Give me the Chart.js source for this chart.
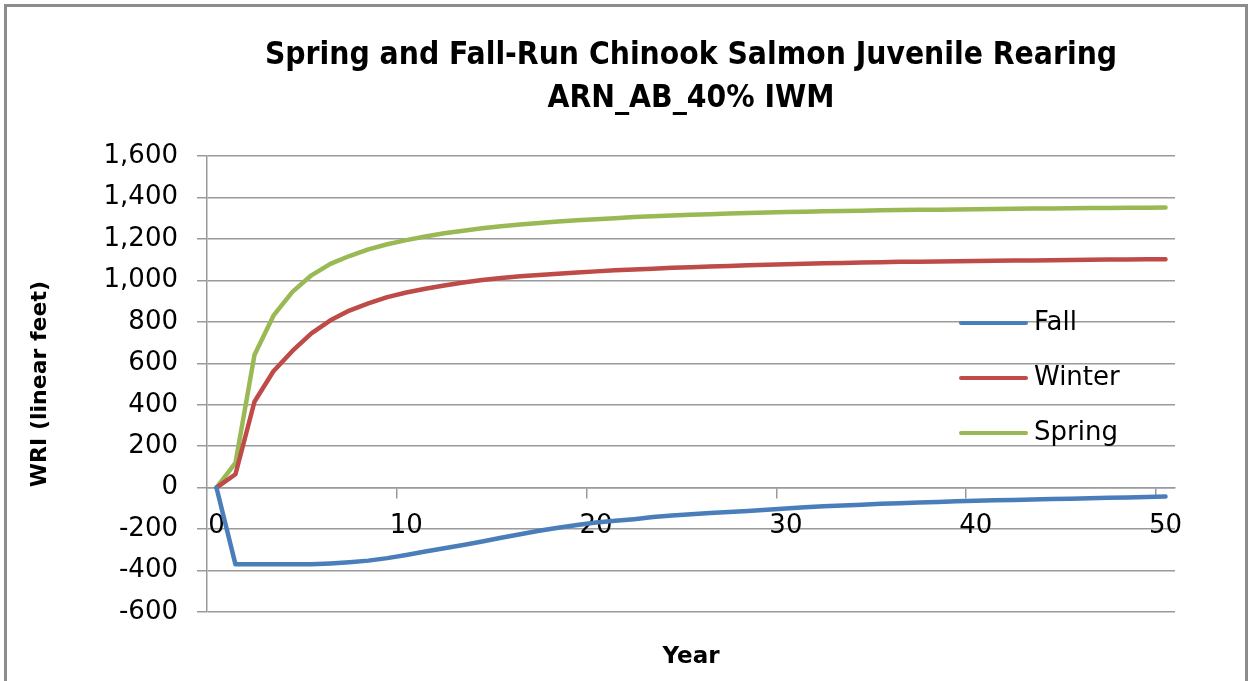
<!DOCTYPE html>
<html>
<head>
<meta charset="utf-8">
<script src="https://cdn.jsdelivr.net/npm/chart.js@4/dist/chart.umd.min.js"></script>
<style>
  html, body { margin: 0; padding: 0; background: #fff; overflow: hidden; }
  #wrap { position: relative; width: 1250px; height: 681px; }
  #frame { position: absolute; left: 4px; top: 4px; width: 1238px; height: 700px; border: 3px solid #8c8c8c; box-sizing: content-box; pointer-events: none; }
  canvas { position: absolute; left: 0; top: 0; }
</style>
</head>
<body>
<div id="wrap">
  <canvas id="c" width="1250" height="681"></canvas>
  <div id="frame"></div>
</div>
<script>
const titleLines = ['Spring and Fall-Run Chinook Salmon Juvenile Rearing', 'ARN_AB_40% IWM'];
const xTitle = 'Year';
const yTitle = 'WRI (linear feet)';
const years = ['0','1','2','3','4','5','6','7','8','9','10','11','12','13','14','15','16','17','18','19','20','21','22','23','24','25','26','27','28','29','30','31','32','33','34','35','36','37','38','39','40','41','42','43','44','45','46','47','48','49','50'];
const fall = [0,-370,-370,-370,-370,-370,-366,-360,-352,-340,-325,-308,-292,-277,-260,-242,-225,-208,-193,-180,-168,-160,-152,-142,-134,-128,-122,-117,-112,-106,-100,-95,-90,-86,-82,-78,-75,-72,-69,-66,-63,-61,-59,-57,-55,-53,-51,-49,-47,-45,-43];
const winter = [0,65,415,562,660,745,808,855,890,920,942,960,976,990,1002,1012,1020,1027,1033,1039,1044,1049,1053,1057,1061,1064,1067,1070,1073,1076,1078,1081,1083,1085,1087,1088,1090,1091,1092,1093,1094,1095,1096,1097,1098,1099,1100,1101,1101,1102,1102];
const spring = [0,120,640,830,945,1025,1080,1118,1150,1175,1195,1212,1228,1240,1252,1262,1270,1278,1285,1291,1296,1301,1306,1310,1314,1317,1320,1323,1326,1328,1330,1332,1334,1336,1337,1339,1340,1341,1342,1343,1344,1345,1346,1347,1348,1349,1350,1350,1351,1351,1352];
const seriesNames = ['Fall', 'Winter', 'Spring'];
const seriesColors = ['#4a7ebb', '#be4b48', '#98b954'];
const yMin = -600, yMax = 1600, yStep = 200;
const xLabelEvery = 10;

const BODY = '"DejaVu Sans", "Liberation Sans", sans-serif';
const TITLEF = '"Liberation Sans Narrow", "DejaVu Sans Condensed", "Liberation Sans", sans-serif';
const GRID = '#9a9a9a';

const legendPlugin = {
  id: 'insideLegend',
  afterDatasetsDraw(chart) {
    const ctx = chart.ctx;
    ctx.save();
    chart.data.datasets.forEach((ds, i) => {
      const y = 323 + i * 55;
      ctx.strokeStyle = ds.borderColor;
      ctx.lineWidth = 4;
      ctx.lineCap = 'round';
      ctx.beginPath();
      ctx.moveTo(961, y);
      ctx.lineTo(1026, y);
      ctx.stroke();
      ctx.fillStyle = '#000';
      ctx.font = '26px ' + BODY;
      ctx.textBaseline = 'middle';
      ctx.textAlign = 'left';
      ctx.fillText(ds.label, 1034, y);
    });
    ctx.restore();
  }
};

new Chart(document.getElementById('c'), {
  type: 'line',
  data: {
    labels: years,
    datasets: [
      { label: seriesNames[0], data: fall, borderColor: seriesColors[0], backgroundColor: seriesColors[0] },
      { label: seriesNames[1], data: winter, borderColor: seriesColors[1], backgroundColor: seriesColors[1] },
      { label: seriesNames[2], data: spring, borderColor: seriesColors[2], backgroundColor: seriesColors[2] }
    ]
  },
  options: {
    responsive: false,
    animation: false,
    devicePixelRatio: 1,
    layout: { padding: { left: 10, right: 75, top: 0, bottom: 0 } },
    elements: {
      line: { borderWidth: 4.5, tension: 0, borderCapStyle: 'round', borderJoinStyle: 'round' },
      point: { radius: 0, hoverRadius: 0 }
    },
    plugins: {
      legend: { display: false },
      tooltip: { enabled: false },
      title: {
        display: true,
        fullSize: false,
        text: titleLines,
        color: '#000',
        font: { family: TITLEF, size: 31.5, weight: 'bold', lineHeight: 1.36 },
        padding: { top: 34.5, bottom: 36 }
      },
      subtitle: {
        display: true,
        position: 'bottom',
        fullSize: false,
        text: xTitle,
        color: '#000',
        font: { family: BODY, size: 23, weight: 'bold', lineHeight: 1.2 },
        padding: { top: 31, bottom: 10.4 }
      }
    },
    scales: {
      x: {
        type: 'category',
        position: { y: 0 },
        offset: true,
        grid: {
          display: true,
          offset: true,
          drawOnChartArea: false,
          drawTicks: true,
          tickLength: 10,
          lineWidth: 1.5,
          color: GRID,
          tickColor: (c) => (c.index > 0 && c.index % xLabelEvery === 0) ? GRID : 'rgba(0,0,0,0)'
        },
        border: { display: true, color: GRID, width: 1.5 },
        ticks: {
          autoSkip: false,
          maxRotation: 0,
          minRotation: 0,
          padding: 13,
          color: '#000',
          font: { family: BODY, size: 26 },
          callback: function (v, i) { return i % xLabelEvery === 0 ? this.getLabelForValue(v) : ''; }
        },
        afterFit: (s) => { s.paddingLeft = 0; s.paddingRight = 0; }
      },
      y: {
        min: yMin,
        max: yMax,
        grid: { color: GRID, lineWidth: 1.5, drawTicks: true, tickLength: 10 },
        border: { display: true, color: GRID, width: 1.5 },
        ticks: {
          stepSize: yStep,
          padding: 19,
          color: '#000',
          font: { family: BODY, size: 26 },
          callback: (v) => v.toLocaleString('en-US')
        },
        title: {
          display: true,
          text: yTitle,
          color: '#000',
          font: { family: BODY, size: 22, weight: 'bold', lineHeight: 1.2 },
          padding: { top: 17, bottom: 0 }
        },
        afterFit: (s) => { s.width = 197; s.paddingTop = 0; s.paddingBottom = 0; }
      }
    }
  },
  plugins: [legendPlugin]
});
</script>
</body>
</html>
